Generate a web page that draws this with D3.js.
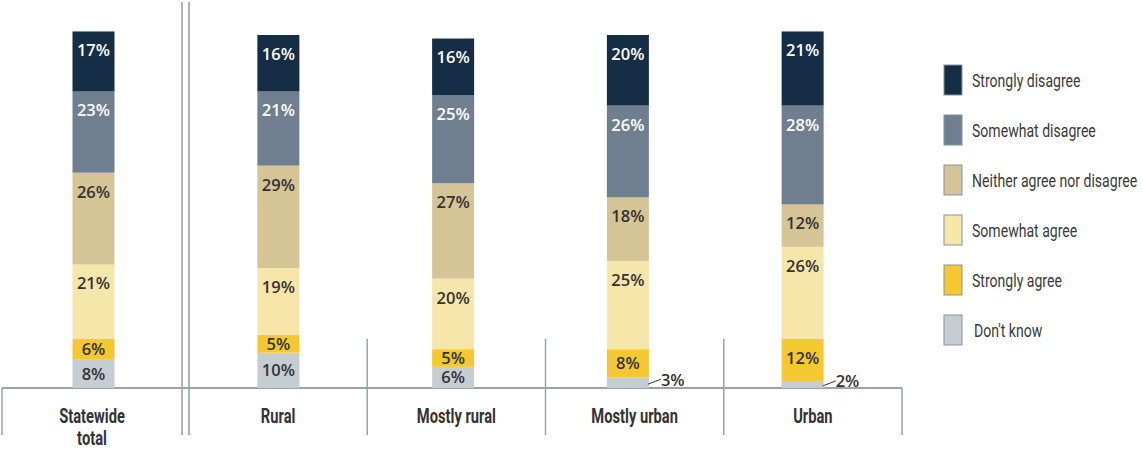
<!DOCTYPE html>
<html>
<head>
<meta charset="utf-8">
<script src="https://cdn.jsdelivr.net/npm/d3@7"></script>
<style>
  html, body { margin: 0; padding: 0; background: #fff; }
  svg { display: block; }
  .cat { font-family: "Roboto", "Liberation Sans", sans-serif; font-weight: 700; font-size: 21px; fill: #333; }
  .leg { font-family: "Roboto", "Liberation Sans", sans-serif; font-weight: 400; font-size: 18.5px; fill: #3a3a3a; }
  .val { font-family: "Open Sans", "Noto Sans", sans-serif; font-weight: 600; font-size: 16.5px; }
</style>
</head>
<body>
<svg id="chart" width="1143" height="449"></svg>
<script>
// Survey responses by community type (percent of respondents)
const categories = ["Statewide total", "Rural", "Mostly rural", "Mostly urban", "Urban"];
const seriesNames = ["Don't know", "Strongly agree", "Somewhat agree", "Neither agree nor disagree", "Somewhat disagree", "Strongly disagree"];
const dontKnow          = [8, 10, 6, 3, 2];
const stronglyAgree     = [6, 5, 5, 8, 12];
const somewhatAgree     = [21, 19, 20, 25, 26];
const neither           = [26, 29, 27, 18, 12];
const somewhatDisagree  = [23, 21, 25, 26, 28];
const stronglyDisagree  = [17, 16, 16, 20, 21];
const legendOrder = ["Strongly disagree", "Somewhat disagree", "Neither agree nor disagree", "Somewhat agree", "Strongly agree", "Don't know"];

const seriesValues = [dontKnow, stronglyAgree, somewhatAgree, neither, somewhatDisagree, stronglyDisagree];
const colors = {
  "Strongly disagree": "#152d45",
  "Somewhat disagree": "#6f7f90",
  "Neither agree nor disagree": "#d5c495",
  "Somewhat agree": "#f7e6aa",
  "Strongly agree": "#f5c832",
  "Don't know": "#c5cdd3"
};
const lightText = new Set(["Strongly disagree", "Somewhat disagree"]);

const svg = d3.select("#chart");
const lineColor = "#9ca2a8";

// Build rows for stacking
const rows = categories.map((c, i) => {
  const r = { category: c };
  seriesNames.forEach((s, k) => { r[s] = seriesValues[k][i]; });
  return r;
});
const stacked = d3.stack().keys(seriesNames)(rows);

// Layout scales
const baseY = 388;
const y = d3.scaleLinear().domain([0, 100]).range([baseY, 35]);
const regions = categories.slice(1);
const totalCol = d3.scaleBand().domain([categories[0]]).range([2, 182]);
const regionCol = d3.scaleBand().domain(regions).range([189, 902]);
const regionBar = d3.scaleBand().domain(regions).range([191, 890]);
const barW = 42;
const colCenter = c => c === categories[0] ? totalCol(c) + totalCol.bandwidth() / 2 : regionCol(c) + regionCol.bandwidth() / 2;
const barCenter = c => c === categories[0] ? totalCol(c) + totalCol.bandwidth() / 2 + 1.5 : regionBar(c) + regionBar.bandwidth() / 2;

// Frame lines
const g = svg.append("g");
g.append("line").attr("x1", 2).attr("x2", 902).attr("y1", baseY).attr("y2", baseY)
  .attr("stroke", lineColor).attr("stroke-width", 2);
[2, 902].forEach(x => g.append("line").attr("x1", x).attr("x2", x).attr("y1", baseY).attr("y2", 435)
  .attr("stroke", lineColor).attr("stroke-width", 1.5));
[182, 189].forEach(x => g.append("line").attr("x1", x).attr("x2", x).attr("y1", 2).attr("y2", 435)
  .attr("stroke", lineColor).attr("stroke-width", 1.6));
regions.slice(1).forEach(c => g.append("line")
  .attr("x1", regionCol(c)).attr("x2", regionCol(c)).attr("y1", 339).attr("y2", 435)
  .attr("stroke", lineColor).attr("stroke-width", 1.5));

// Bars
const layers = svg.append("g").selectAll("g").data(stacked).join("g")
  .attr("fill", d => colors[d.key]);
layers.selectAll("rect").data(d => d).join("rect")
  .attr("x", d => barCenter(d.data.category) - barW / 2)
  .attr("width", barW)
  .attr("y", d => y(d[1]))
  .attr("height", d => y(d[0]) - y(d[1]));

// Value labels
const labels = svg.append("g");
stacked.forEach(layer => {
  layer.forEach(d => {
    const v = d[1] - d[0];
    const top = y(d[1]), bot = y(d[0]);
    const h = bot - top;
    const cx = barCenter(d.data.category);
    if (v <= 3) {
      const right = cx + barW / 2;
      const cy = (top + bot) / 2;
      labels.append("line").attr("x1", right - 1).attr("y1", cy + 1.5)
        .attr("x2", right + 12).attr("y2", cy - 3.5)
        .attr("stroke", "#333").attr("stroke-width", 1);
      labels.append("text").attr("class", "val").attr("fill", "#333")
        .attr("x", right + 12).attr("y", cy - 3).attr("dy", "0.36em")
        .text(v + "%");
    } else {
      const cy = top + Math.min(h / 2, 19);
      labels.append("text").attr("class", "val")
        .attr("fill", lightText.has(layer.key) ? "#ffffff" : "#333")
        .attr("x", cx).attr("y", cy).attr("dy", "0.36em")
        .attr("text-anchor", "middle")
        .text(v + "%");
    }
  });
});

// Category labels (condensed bold)
const cats = svg.append("g");
categories.forEach(c => {
  const words = c === "Statewide total" ? ["Statewide", "total"] : [c];
  const t = cats.append("text").attr("class", "cat").attr("text-anchor", "middle")
    .attr("transform", `translate(${colCenter(c)}, 423) scale(0.7, 1)`);
  words.forEach((w, i) => t.append("tspan").attr("x", 0).attr("dy", i === 0 ? 0 : 22).text(w));
});

// Legend
const legY = d3.scaleBand().domain(legendOrder).range([55, 355]);
const leg = svg.append("g").selectAll("g").data(legendOrder).join("g")
  .attr("transform", d => `translate(944, ${legY(d) + legY.bandwidth() / 2})`);
leg.append("rect").attr("x", 0).attr("y", -15).attr("width", 18).attr("height", 30)
  .attr("fill", d => colors[d]).attr("stroke", "#8594a3").attr("stroke-width", 1);
leg.append("text").attr("class", "leg")
  .attr("transform", d => `translate(${d === "Don't know" ? 30 : 28}, 1) scale(0.76, 1)`)
  .attr("dy", "0.35em").text(d => d);
</script>
</body>
</html>
